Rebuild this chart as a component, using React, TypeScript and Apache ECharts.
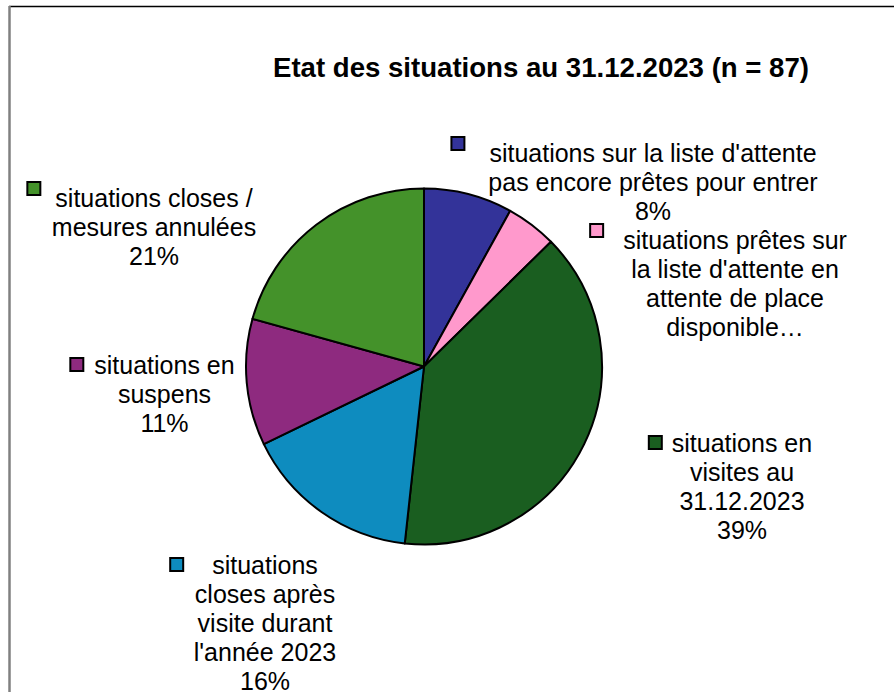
import React, { useEffect, useRef } from 'react';
import * as echarts from 'echarts';

const TITLE = 'Etat des situations au 31.12.2023 (n = 87)';
const categories = [
  "situations sur la liste d'attente\npas encore prêtes pour entrer",
  "situations prêtes sur\nla liste d'attente en\nattente de place\ndisponible…",
  'situations en\nvisites au\n31.12.2023',
  "situations\ncloses après\nvisite durant\nl'année 2023",
  'situations en\nsuspens',
  'situations closes /\nmesures annulées',
];
const counts = [7, 4, 34, 14, 10, 18];
const showPercent = [true, false, true, true, true, true];
const colors = ['#333399', '#FF99CC', '#1A5E20', '#0E8CBF', '#8E2A7F', '#44922A'];

// label placement (top-centre of each label block) and legend-key styling
const labelPos: [number, number][] = [
  [653, 138],
  [735, 225],
  [742, 428],
  [265, 550],
  [164.5, 350],
  [154, 183],
];
const keyGap = [26, 21, 11, 30, 12, 16];
const keyAlign = ['top', 'top', 'middle', 'middle', 'middle', 'top'];

const FONT = "'Liberation Sans', Arial, sans-serif";

export default function App() {
  const ref = useRef<HTMLDivElement>(null);
  useEffect(() => {
    if (!ref.current) return;
    const chart = echarts.init(ref.current, undefined, { renderer: 'svg' });
    const data = categories.map((name, i) => ({
      name,
      value: counts[i],
      itemStyle: { color: colors[i] },
      label: {
        rich: {
          t: { fontSize: 25, lineHeight: 29, color: '#000', fontFamily: FONT },
          sq: {
            width: 11,
            height: 11,
            backgroundColor: colors[i],
            borderColor: '#000',
            borderWidth: 2,
            verticalAlign: keyAlign[i],
          },
          g: { width: keyGap[i] },
          pad: { width: 11 + keyGap[i] },
        },
      },
    }));
    chart.setOption({
      animation: false,
      backgroundColor: '#fff',
      graphic: [
        {
          type: 'line',
          shape: { x1: 9, y1: 6.5, x2: 894, y2: 6.5 },
          style: { stroke: '#000', lineWidth: 1.5 },
        },
        {
          type: 'line',
          shape: { x1: 9.5, y1: 6, x2: 9.5, y2: 692 },
          style: { stroke: '#808080', lineWidth: 2.5 },
        },
        {
          type: 'text',
          x: 541,
          y: 67,
          style: {
            text: TITLE,
            align: 'center',
            verticalAlign: 'middle',
            fontSize: 27.6,
            fontWeight: 'bold',
            fontFamily: FONT,
            fill: '#000',
          },
        },
      ],
      series: [
        {
          type: 'pie',
          center: [424, 366.5],
          radius: 178,
          startAngle: 90,
          clockwise: true,
          avoidLabelOverlap: false,
          silent: true,
          itemStyle: { borderColor: '#000', borderWidth: 2 },
          label: {
            show: true,
            position: 'inside',
            rotate: 0,
            align: 'center',
            color: '#000',
            fontSize: 25,
            lineHeight: 29,
            fontFamily: FONT,
            overflow: 'none',
            formatter: (p: any) => {
              const i = p.dataIndex;
              const lines = categories[i].split('\n');
              if (showPercent[i]) lines.push(Math.round(p.percent) + '%');
              return lines
                .map((l, k) => (k === 0 ? `{sq|}{g|}{t|${l}}{pad|}` : `{t|${l}}`))
                .join('\n');
            },
          },
          labelLine: { show: false },
          labelLayout: (params: any) => ({
            x: labelPos[params.dataIndex][0],
            y: labelPos[params.dataIndex][1],
            align: 'center',
            verticalAlign: 'top',
          }),
          data,
        },
      ],
    });
    return () => chart.dispose();
  }, []);
  return (
    <div
      ref={ref}
      style={{ position: 'fixed', left: 0, top: 0, width: 894, height: 692, background: '#fff' }}
    />
  );
}
